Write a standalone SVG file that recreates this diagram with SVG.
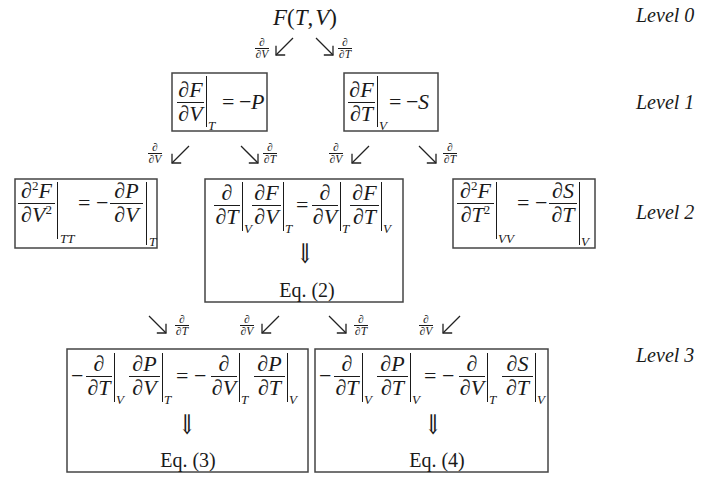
<svg xmlns="http://www.w3.org/2000/svg" width="724" height="477" viewBox="0 0 724 477">
<defs>
<style>
.t{font-family:"Liberation Serif","Times New Roman",serif;fill:#1a1a1a}
.m{font-size:22px}
.i{font-style:italic}
.sub{font-size:13px;font-style:italic}
.sup{font-size:13px;font-style:normal}
.sm{font-size:11.5px}
.c{text-anchor:middle}
.lbl{font-size:20px;font-style:italic}
.eq{font-size:20px}
.dn{font-family:"DejaVu Serif","DejaVu Sans",serif;font-size:17px;fill:#1a1a1a;text-anchor:middle}
.fb{stroke:#1a1a1a;stroke-width:1}
.ev{stroke:#1a1a1a;stroke-width:1}
.box{fill:none;stroke:#444;stroke-width:1.5}
.arr{stroke:#222;stroke-width:1.3;fill:none;marker-end:url(#ah)}
</style>
<marker id="ah" viewBox="-8 -8 10 16" refX="0" refY="0" markerWidth="10" markerHeight="16" markerUnits="userSpaceOnUse" orient="auto">
<path d="M-6.5,-6.5 L0,0 L-6.5,6.5" fill="none" stroke="#222" stroke-width="1.3"/>
</marker>
</defs>
<rect width="724" height="477" fill="#fff"/>

<g id="level-labels" class="t lbl">
<text x="636" y="22">Level 0</text>
<text x="636" y="109">Level 1</text>
<text x="636" y="219">Level 2</text>
<text x="636" y="362">Level 3</text>
</g>

<g id="n-F">
<text class="t" style="font-size:23px" x="273" y="25"><tspan class="i">F</tspan>(<tspan class="i">T</tspan>,<tspan class="i" dx="2">V</tspan>)</text>
</g>

<g id="n-dFdV">
<rect class="box" x="172" y="73" width="95" height="58"/>
<line class="fb" x1="177" y1="102.5" x2="204" y2="102.5"/>
<text class="t m c" x="190.5" y="97">∂<tspan class="i">F</tspan></text>
<text class="t m c" x="190.5" y="121">∂<tspan class="i">V</tspan></text>
<line class="ev" x1="206.5" y1="76" x2="206.5" y2="127"/>
<text class="t sub" x="208" y="130">T</text>
<text class="t m" x="222" y="109">=<tspan x="239">−</tspan><tspan x="251" class="i">P</tspan></text>
</g>

<g id="n-dFdT">
<rect class="box" x="344" y="73" width="94" height="58"/>
<line class="fb" x1="348" y1="102.5" x2="375" y2="102.5"/>
<text class="t m c" x="361.5" y="97">∂<tspan class="i">F</tspan></text>
<text class="t m c" x="361.5" y="121">∂<tspan class="i">T</tspan></text>
<line class="ev" x1="377.5" y1="76" x2="377.5" y2="127"/>
<text class="t sub" x="379" y="130">V</text>
<text class="t m" x="389" y="109">=<tspan x="406">−</tspan><tspan x="418" class="i">S</tspan></text>
</g>

<g id="n-d2FdV2">
<rect class="box" x="15" y="179" width="142" height="69"/>
<line class="fb" x1="18" y1="203.5" x2="55" y2="203.5"/>
<text class="t m c" x="36.5" y="198">∂<tspan class="sup" dy="-8">2</tspan><tspan class="i" dy="8">F</tspan></text>
<text class="t m c" x="36.5" y="222">∂<tspan class="i">V</tspan><tspan class="sup" dy="-8">2</tspan></text>
<line class="ev" x1="57.5" y1="182" x2="57.5" y2="239"/>
<text class="t sub" x="60" y="243">TT</text>
<text class="t m" x="78" y="210">=<tspan x="96">−</tspan></text>
<line class="fb" x1="110" y1="203.5" x2="143" y2="203.5"/>
<text class="t m c" x="126.5" y="198">∂<tspan class="i">P</tspan></text>
<text class="t m c" x="126.5" y="222">∂<tspan class="i">V</tspan></text>
<line class="ev" x1="146.5" y1="182" x2="146.5" y2="245"/>
<text class="t sub" x="149" y="246">T</text>
</g>

<g id="n-mixed">
<rect class="box" x="205" y="179" width="198" height="123"/>
<line class="fb" x1="214" y1="205.5" x2="240" y2="205.5"/>
<text class="t m c" x="227" y="200">∂</text>
<text class="t m c" x="227" y="224">∂<tspan class="i">T</tspan></text>
<line class="ev" x1="242.5" y1="182" x2="242.5" y2="231"/>
<text class="t sub" x="244" y="233">V</text>
<line class="fb" x1="252" y1="205.5" x2="281" y2="205.5"/>
<text class="t m c" x="266.5" y="200">∂<tspan class="i">F</tspan></text>
<text class="t m c" x="266.5" y="224">∂<tspan class="i">V</tspan></text>
<line class="ev" x1="283.5" y1="182" x2="283.5" y2="231"/>
<text class="t sub" x="285" y="233">T</text>
<text class="t m" x="296" y="212">=</text>
<line class="fb" x1="312" y1="205.5" x2="338" y2="205.5"/>
<text class="t m c" x="325" y="200">∂</text>
<text class="t m c" x="325" y="224">∂<tspan class="i">V</tspan></text>
<line class="ev" x1="340.5" y1="182" x2="340.5" y2="231"/>
<text class="t sub" x="342" y="233">T</text>
<line class="fb" x1="350" y1="205.5" x2="379" y2="205.5"/>
<text class="t m c" x="364.5" y="200">∂<tspan class="i">F</tspan></text>
<text class="t m c" x="364.5" y="224">∂<tspan class="i">T</tspan></text>
<line class="ev" x1="381.5" y1="182" x2="381.5" y2="231"/>
<text class="t sub" x="383" y="233">V</text>
<text class="dn" transform="translate(305,263) scale(1.2,1.6)">⇓</text>
<text class="t eq c" x="307" y="297">Eq. (2)</text>
</g>

<g id="n-d2FdT2">
<rect class="box" x="453" y="179" width="142" height="69"/>
<line class="fb" x1="457" y1="203.5" x2="494" y2="203.5"/>
<text class="t m c" x="475.5" y="198">∂<tspan class="sup" dy="-8">2</tspan><tspan class="i" dy="8">F</tspan></text>
<text class="t m c" x="475.5" y="222">∂<tspan class="i">T</tspan><tspan class="sup" dy="-8">2</tspan></text>
<line class="ev" x1="496.5" y1="182" x2="496.5" y2="239"/>
<text class="t sub" x="498" y="243">VV</text>
<text class="t m" x="517" y="210">=<tspan x="535">−</tspan></text>
<line class="fb" x1="549" y1="203.5" x2="577" y2="203.5"/>
<text class="t m c" x="563" y="198">∂<tspan class="i">S</tspan></text>
<text class="t m c" x="563" y="222">∂<tspan class="i">T</tspan></text>
<line class="ev" x1="579.5" y1="182" x2="579.5" y2="245"/>
<text class="t sub" x="581" y="246">V</text>
</g>

<g id="n-eq3">
<rect class="box" x="67" y="349" width="241" height="123"/>
<text class="t m" x="71" y="383">−</text>
<line class="fb" x1="86" y1="376.5" x2="112" y2="376.5"/>
<text class="t m c" x="99" y="371">∂</text>
<text class="t m c" x="99" y="395">∂<tspan class="i">T</tspan></text>
<line class="ev" x1="114.5" y1="353" x2="114.5" y2="402"/>
<text class="t sub" x="116" y="404">V</text>
<line class="fb" x1="129" y1="376.5" x2="160" y2="376.5"/>
<text class="t m c" x="144.5" y="371">∂<tspan class="i">P</tspan></text>
<text class="t m c" x="144.5" y="395">∂<tspan class="i">V</tspan></text>
<line class="ev" x1="162.5" y1="353" x2="162.5" y2="402"/>
<text class="t sub" x="164" y="404">T</text>
<text class="t m" x="176" y="383">=<tspan x="194">−</tspan></text>
<line class="fb" x1="211" y1="376.5" x2="237" y2="376.5"/>
<text class="t m c" x="224" y="371">∂</text>
<text class="t m c" x="224" y="395">∂<tspan class="i">V</tspan></text>
<line class="ev" x1="239.5" y1="353" x2="239.5" y2="402"/>
<text class="t sub" x="241" y="404">T</text>
<line class="fb" x1="254" y1="376.5" x2="285" y2="376.5"/>
<text class="t m c" x="269.5" y="371">∂<tspan class="i">P</tspan></text>
<text class="t m c" x="269.5" y="395">∂<tspan class="i">T</tspan></text>
<line class="ev" x1="287.5" y1="353" x2="287.5" y2="402"/>
<text class="t sub" x="289" y="404">V</text>
<text class="dn" transform="translate(187,434) scale(1.2,1.6)">⇓</text>
<text class="t eq c" x="188" y="467">Eq. (3)</text>
</g>

<g id="n-eq4">
<rect class="box" x="315" y="349" width="233" height="123"/>
<text class="t m" x="319" y="383">−</text>
<line class="fb" x1="334" y1="376.5" x2="360" y2="376.5"/>
<text class="t m c" x="347" y="371">∂</text>
<text class="t m c" x="347" y="395">∂<tspan class="i">T</tspan></text>
<line class="ev" x1="362.5" y1="353" x2="362.5" y2="402"/>
<text class="t sub" x="364" y="404">V</text>
<line class="fb" x1="377" y1="376.5" x2="408" y2="376.5"/>
<text class="t m c" x="392.5" y="371">∂<tspan class="i">P</tspan></text>
<text class="t m c" x="392.5" y="395">∂<tspan class="i">T</tspan></text>
<line class="ev" x1="410.5" y1="353" x2="410.5" y2="402"/>
<text class="t sub" x="412" y="404">V</text>
<text class="t m" x="424" y="383">=<tspan x="442">−</tspan></text>
<line class="fb" x1="459" y1="376.5" x2="485" y2="376.5"/>
<text class="t m c" x="472" y="371">∂</text>
<text class="t m c" x="472" y="395">∂<tspan class="i">V</tspan></text>
<line class="ev" x1="487.5" y1="353" x2="487.5" y2="402"/>
<text class="t sub" x="489" y="404">T</text>
<line class="fb" x1="502" y1="376.5" x2="533" y2="376.5"/>
<text class="t m c" x="517.5" y="371">∂<tspan class="i">S</tspan></text>
<text class="t m c" x="517.5" y="395">∂<tspan class="i">T</tspan></text>
<line class="ev" x1="535.5" y1="353" x2="535.5" y2="402"/>
<text class="t sub" x="537" y="404">V</text>
<text class="dn" transform="translate(433,434) scale(1.2,1.6)">⇓</text>
<text class="t eq c" x="437" y="467">Eq. (4)</text>
</g>

<g id="connectors">
<line class="arr" x1="293" y1="38" x2="276" y2="55"/>
<line class="arr" x1="316" y1="38" x2="333" y2="55"/>
<line class="arr" x1="189" y1="146" x2="172" y2="163"/>
<line class="arr" x1="241" y1="146" x2="258" y2="163"/>
<line class="arr" x1="369" y1="146" x2="352" y2="163"/>
<line class="arr" x1="419" y1="146" x2="436" y2="163"/>
<line class="arr" x1="149" y1="316" x2="166" y2="333"/>
<line class="arr" x1="279" y1="316" x2="262" y2="333"/>
<line class="arr" x1="329" y1="316" x2="346" y2="333"/>
<line class="arr" x1="460" y1="316" x2="443" y2="333"/>
<g class="t sm c">
<line class="fb" x1="255" y1="48.5" x2="269" y2="48.5"/><text x="262" y="46">∂</text><text x="262" y="57.5">∂<tspan class="i">V</tspan></text>
<line class="fb" x1="338" y1="48.5" x2="352" y2="48.5"/><text x="345" y="46">∂</text><text x="345" y="57.5">∂<tspan class="i">T</tspan></text>
<line class="fb" x1="148" y1="153.5" x2="162" y2="153.5"/><text x="155" y="151">∂</text><text x="155" y="162.5">∂<tspan class="i">V</tspan></text>
<line class="fb" x1="263" y1="153.5" x2="277" y2="153.5"/><text x="270" y="151">∂</text><text x="270" y="162.5">∂<tspan class="i">T</tspan></text>
<line class="fb" x1="329" y1="153.5" x2="343" y2="153.5"/><text x="336" y="151">∂</text><text x="336" y="162.5">∂<tspan class="i">V</tspan></text>
<line class="fb" x1="443" y1="153.5" x2="457" y2="153.5"/><text x="450" y="151">∂</text><text x="450" y="162.5">∂<tspan class="i">T</tspan></text>
<line class="fb" x1="175" y1="325.5" x2="189" y2="325.5"/><text x="182" y="323">∂</text><text x="182" y="334.5">∂<tspan class="i">T</tspan></text>
<line class="fb" x1="240" y1="325.5" x2="254" y2="325.5"/><text x="247" y="323">∂</text><text x="247" y="334.5">∂<tspan class="i">V</tspan></text>
<line class="fb" x1="354" y1="325.5" x2="368" y2="325.5"/><text x="361" y="323">∂</text><text x="361" y="334.5">∂<tspan class="i">T</tspan></text>
<line class="fb" x1="419" y1="325.5" x2="433" y2="325.5"/><text x="426" y="323">∂</text><text x="426" y="334.5">∂<tspan class="i">V</tspan></text>
</g>
</g>
</svg>
